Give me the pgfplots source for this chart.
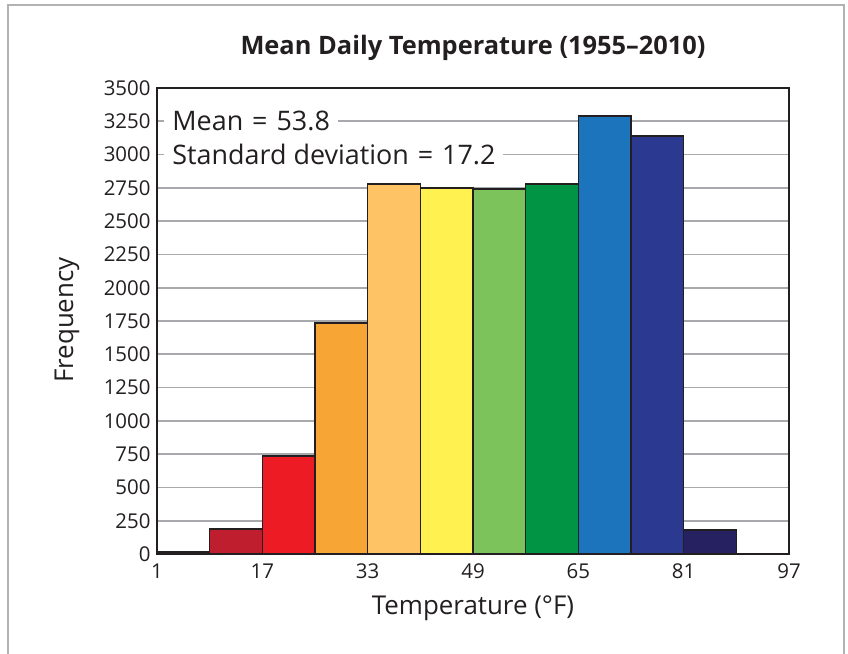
\documentclass[border=0pt]{standalone}
\usepackage{pgfplots}
\pgfplotsset{compat=1.18}
\usepackage{fontspec}
\setmainfont{Open Sans}
\definecolor{c1}{HTML}{3B1F2B}
\definecolor{c2}{HTML}{BE1E2D}
\definecolor{c3}{HTML}{ED1C24}
\definecolor{c4}{HTML}{F7A535}
\definecolor{c5}{HTML}{FDC364}
\definecolor{c6}{HTML}{FFF250}
\definecolor{c7}{HTML}{7DC35B}
\definecolor{c8}{HTML}{009444}
\definecolor{c9}{HTML}{1C75BC}
\definecolor{c10}{HTML}{2B3990}
\definecolor{c11}{HTML}{262262}
\definecolor{c12}{HTML}{231F40}
\definecolor{gridgray}{HTML}{A7A9AC}
\definecolor{ink}{HTML}{231F20}
\begin{document}
\begin{tikzpicture}
\useasboundingbox (-157bp,-100bp) rectangle (691bp,554bp);
\draw[line width=1.5bp, color=gray!60] (-149bp,-101bp) -- (-149bp,549bp) -- (687bp,549bp) -- (687bp,-101bp);
\begin{axis}[
  at={(0,0)}, anchor=south west,
  scale only axis, width=632bp, height=466bp,
  xmin=1, xmax=97, ymin=0, ymax=3500,
  xtick={1,17,...,97}, ytick={0,250,...,3500},
  ymajorgrids, grid style={line width=1.6bp, color=gridgray},
  axis line style={line width=2bp, color=ink},
  major tick length=0pt,
  ticklabel style={font=\fontsize{20.5}{24}\selectfont, color=ink},
  /pgf/number format/assume math mode=true,
  /pgf/number format/1000 sep={},
  ytick style={draw=none}, xtick style={draw=none},
  yticklabel style={xshift=-3bp},
  xticklabel style={yshift=-6bp},
  clip=false,
  every axis plot/.append style={ybar, bar width=8, bar shift=0pt, draw=ink, line width=1.5bp},
]
\addplot[fill=c1] coordinates {(5,15)};
\addplot[fill=c2] coordinates {(13,188)};
\addplot[fill=c3] coordinates {(21,736)};
\addplot[fill=c4] coordinates {(29,1735)};
\addplot[fill=c5] coordinates {(37,2779)};
\addplot[fill=c6] coordinates {(45,2749)};
\addplot[fill=c7] coordinates {(53,2741)};
\addplot[fill=c8] coordinates {(61,2779)};
\addplot[fill=c9] coordinates {(69,3290)};
\addplot[fill=c10] coordinates {(77,3139)};
\addplot[fill=c11] coordinates {(85,180)};
\addplot[fill=c12] coordinates {(93,5)};
\node[anchor=west, fill=white, inner xsep=8bp, inner ysep=1bp, font=\fontsize{27}{30}\selectfont, text=ink] at (axis cs:2.1,3250) {Mean\,\,=\,\,53.8};
\node[anchor=west, fill=white, inner xsep=8bp, inner ysep=1bp, font=\fontsize{27}{30}\selectfont, text=ink] at (axis cs:2.1,3000) {Standard deviation\,\,=\,\,17.2};
\end{axis}
\node[font=\bfseries\fontsize{25.5}{28}\selectfont, text=ink] at (316bp,506bp) {Mean Daily Temperature (1955–2010)};
\node[font=\fontsize{26}{28}\selectfont, text=ink, rotate=90] at (-90bp,234bp) {Frequency};
\node[font=\fontsize{26}{28}\selectfont, text=ink] at (316bp,-54bp) {Temperature (\textdegree F)};
\end{tikzpicture}
\end{document}
